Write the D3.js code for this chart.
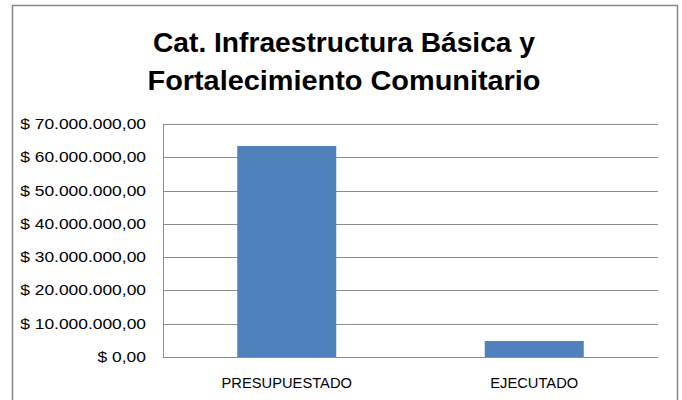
<!DOCTYPE html>
<html>
<head>
<meta charset="utf-8">
<script src="https://cdn.jsdelivr.net/npm/d3@7"></script>
<style>
  body { margin: 0; background: #fff; }
  text { font-family: "Liberation Sans", Arial, sans-serif; fill: #000; }
</style>
</head>
<body>
<svg id="chart" width="682" height="400"></svg>
<script>
// chart data
const titleLines = ["Cat. Infraestructura Básica y", "Fortalecimiento Comunitario"];
const categories = ["PRESUPUESTADO", "EJECUTADO"];
const values = [63400000, 4800000];
const yTicks = [0, 10000000, 20000000, 30000000, 40000000, 50000000, 60000000, 70000000];

const svg = d3.select("#chart");

// outer frame
svg.append("rect")
    .attr("x", 12.5).attr("y", 5.5)
    .attr("width", 665).attr("height", 420)
    .attr("fill", "#fff")
    .attr("stroke", "#868686")
    .attr("stroke-width", 1.5);

// title, stretched to the measured widths of the original
const titleWidths = [382, 393];
svg.selectAll(".title")
    .data(titleLines)
    .enter().append("text")
    .attr("class", "title")
    .attr("x", 344)
    .attr("y", function(d, i) { return 52 + i * 38; })
    .attr("text-anchor", "middle")
    .style("font-size", "28px")
    .style("font-weight", "bold")
    .attr("textLength", function(d, i) { return titleWidths[i]; })
    .attr("lengthAdjust", "spacingAndGlyphs")
    .text(function(d) { return d; });

const plot = { left: 163, right: 658, top: 124, bottom: 357 };

const x = d3.scaleBand()
    .domain(categories)
    .range([plot.left, plot.right]);

const y = d3.scaleLinear()
    .domain([0, 70000000])
    .range([plot.bottom, plot.top]);

// money format: $ 70.000.000,00
const fmt = d3.formatLocale({ decimal: ",", thousands: ".", grouping: [3], currency: ["$ ", ""] })
    .format("$,.2f");

const g = svg.append("g");

// gridlines
g.selectAll(".grid")
    .data(yTicks)
    .enter().append("line")
    .attr("x1", plot.left).attr("x2", plot.right)
    .attr("y1", function(d) { return Math.round(y(d)) + 0.5; })
    .attr("y2", function(d) { return Math.round(y(d)) + 0.5; })
    .attr("stroke", "#8c8c8c")
    .attr("stroke-width", 1);

// left axis line
g.append("line")
    .attr("x1", plot.left + 0.5).attr("x2", plot.left + 0.5)
    .attr("y1", plot.top).attr("y2", plot.bottom + 0.5)
    .attr("stroke", "#8c8c8c");

// y tick labels
g.selectAll(".ylab")
    .data(yTicks)
    .enter().append("text")
    .attr("class", "ylab")
    .attr("x", 146)
    .attr("y", function(d) { return y(d) + 5; })
    .attr("text-anchor", "end")
    .style("font-size", "14.5px")
    .text(function(d) { return fmt(d); })
    .each(function() {
        const len = this.getComputedTextLength();
        d3.select(this).attr("textLength", len * 1.2).attr("lengthAdjust", "spacingAndGlyphs");
    });

// bars
const barW = x.bandwidth() * 0.4;
g.selectAll(".bar")
    .data(values)
    .enter().append("rect")
    .attr("x", function(d, i) { return x(categories[i]) + (x.bandwidth() - barW) / 2; })
    .attr("y", function(d) { return y(d); })
    .attr("width", barW)
    .attr("height", function(d) { return y(0) - y(d); })
    .attr("fill", "#4f81bd");

// category labels
g.selectAll(".xlab")
    .data(categories)
    .enter().append("text")
    .attr("x", function(d) { return x(d) + x.bandwidth() / 2; })
    .attr("y", 388)
    .attr("text-anchor", "middle")
    .style("font-size", "14px")
    .text(function(d) { return d; })
    .each(function() {
        const len = this.getComputedTextLength();
        d3.select(this).attr("textLength", len * 1.05).attr("lengthAdjust", "spacingAndGlyphs");
    });
</script>
</body>
</html>
